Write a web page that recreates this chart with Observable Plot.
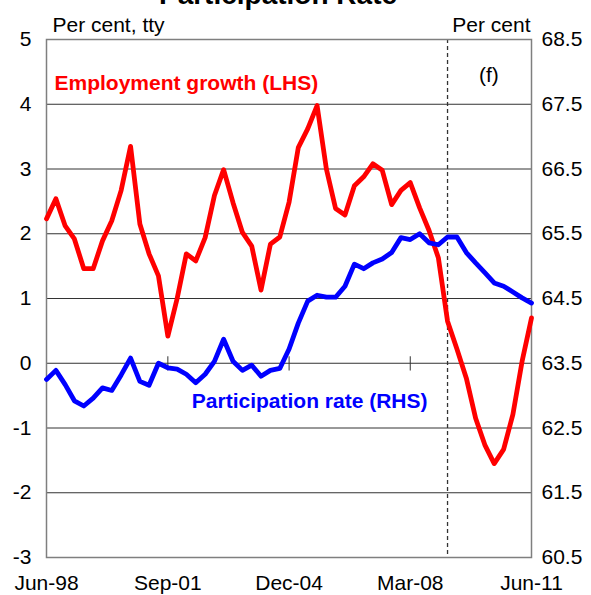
<!DOCTYPE html>
<html>
<head>
<meta charset="utf-8">
<script src="https://cdn.jsdelivr.net/npm/d3@7"></script>
<script src="https://cdn.jsdelivr.net/npm/@observablehq/plot@0.6"></script>
<style>
  html, body { margin: 0; padding: 0; background: #fff; }
  #chart svg { display: block; overflow: hidden; }
</style>
</head>
<body>
<div id="chart"></div>
<script>
// ---- Data (quarterly, Jun-98 to Jun-11) ----
const startQuarter = "1998-06-01";
const forecastStart = "2009-03-01";
const tickLabels = ["Jun-98", "Sep-01", "Dec-04", "Mar-08", "Jun-11"];
const leftTicks = [-3, -2, -1, 0, 1, 2, 3, 4, 5];
const rightOffset = 63.5; // RHS = LHS + 63.5

// Employment growth, per cent tty (LHS)
const employmentGrowth = [2.23, 2.54, 2.12, 1.92, 1.46, 1.46, 1.89, 2.2, 2.67, 3.35,
  2.15, 1.69, 1.35, 0.42, 1.0, 1.69, 1.58, 1.94, 2.59, 2.99,
  2.48, 2.02, 1.81, 1.13, 1.84, 1.95, 2.49, 3.33, 3.62, 3.98,
  3.0, 2.39, 2.29, 2.74, 2.88, 3.08, 2.98, 2.45, 2.67, 2.79,
  2.40, 2.05, 1.63, 0.65, 0.22, -0.23, -0.85, -1.26, -1.55, -1.33,
  -0.79, 0.03, 0.70];

// Participation rate, per cent (RHS)
const participationRate = [63.25, 63.39, 63.17, 62.92, 62.84, 62.96, 63.12, 63.08, 63.32, 63.58,
  63.22, 63.16, 63.5, 63.43, 63.41, 63.33, 63.2, 63.33, 63.53, 63.87,
  63.53, 63.39, 63.47, 63.3, 63.39, 63.42, 63.72, 64.12, 64.46, 64.55,
  64.52, 64.52, 64.69, 65.03, 64.96, 65.05, 65.11, 65.21, 65.44, 65.41,
  65.5, 65.36, 65.33, 65.45, 65.45, 65.21, 65.05, 64.9, 64.74, 64.69,
  64.6, 64.51, 64.43];

// ---- Build tables ----
const parseLabel = d3.utcParse("%b-%y");
const fmt = d3.utcFormat("%b-%y");
const start = new Date(startQuarter);
const quarters = employmentGrowth.map((_, i) => d3.utcMonth.offset(start, 3 * i));
const emp = quarters.map((date, i) => ({date, value: employmentGrowth[i]}));
const part = quarters.map((date, i) => ({date, value: participationRate[i] - rightOffset}));
const tickDates = tickLabels.map(parseLabel);
const fDate = new Date(forecastStart);
const font = "Liberation Sans, Arial, sans-serif";

const chart = Plot.plot({
  width: 591,
  height: 595,
  marginLeft: 46,
  marginRight: 60,
  marginTop: 39,
  marginBottom: 38,
  style: {fontFamily: font, fontSize: "21px", background: "#fff", color: "#000"},
  x: {type: "utc", domain: [tickDates[0], tickDates[tickDates.length - 1]]},
  y: {domain: [-3, 5]},
  marks: [
    // gridlines
    Plot.ruleY(leftTicks, {stroke: "#333", strokeWidth: 1}),
    // ticks on zero line
    Plot.ruleX(tickDates, {x: d => d, y1: -0.12, y2: 0.1, stroke: "#333", strokeWidth: 1}),
    // forecast divider
    Plot.ruleX([fDate], {x: d => d, stroke: "#333", strokeWidth: 1.3, strokeDasharray: "4,3"}),
    Plot.frame({stroke: "#7f7f7f", strokeWidth: 1.5}),
    // series
    Plot.line(emp, {x: "date", y: "value", stroke: "#ff0000", strokeWidth: 4.8, strokeLinejoin: "round"}),
    Plot.line(part, {x: "date", y: "value", stroke: "#0000ff", strokeWidth: 4.8, strokeLinejoin: "round"}),
    // axes
    Plot.axisY(leftTicks, {anchor: "left", tickSize: 0, tickPadding: 15, label: null, fontSize: 21,
      tickFormat: d => String(d)}),
    Plot.axisY(leftTicks, {anchor: "right", tickSize: 0, tickPadding: 10, label: null, fontSize: 21,
      tickFormat: d => (d + rightOffset).toFixed(1)}),
    Plot.axisX(tickDates, {anchor: "bottom", tickSize: 0, tickPadding: 18, label: null, fontSize: 21,
      tickFormat: fmt}),
    // labels
    Plot.text(["Participation Rate"], {frameAnchor: "top", dx: -11, dy: -36, lineAnchor: "bottom",
      fontWeight: "bold", fontSize: 28}),
    Plot.text(["Per cent, tty"], {frameAnchor: "top-left", textAnchor: "start", lineAnchor: "bottom",
      dx: 6, dy: -8, fontSize: 21}),
    Plot.text(["Per cent"], {frameAnchor: "top-right", textAnchor: "end", lineAnchor: "bottom",
      dx: -1, dy: -8, fontSize: 21}),
    Plot.text(["Employment growth (LHS)"], {x: tickDates[0], y: 4.22, dx: 8, textAnchor: "start",
      lineAnchor: "bottom", fill: "#ff0000", fontWeight: "bold", fontSize: 21}),
    Plot.text(["Participation rate (RHS)"], {x: quarters[28], y: -0.69, dx: 2, textAnchor: "middle",
      lineAnchor: "bottom", fill: "#0000ff", fontWeight: "bold", fontSize: 21}),
    Plot.text(["(f)"], {x: quarters[47], y: 4.35, dx: 4, textAnchor: "middle",
      lineAnchor: "bottom", fontSize: 21})
  ]
});
document.getElementById("chart").appendChild(chart);
</script>
</body>
</html>
